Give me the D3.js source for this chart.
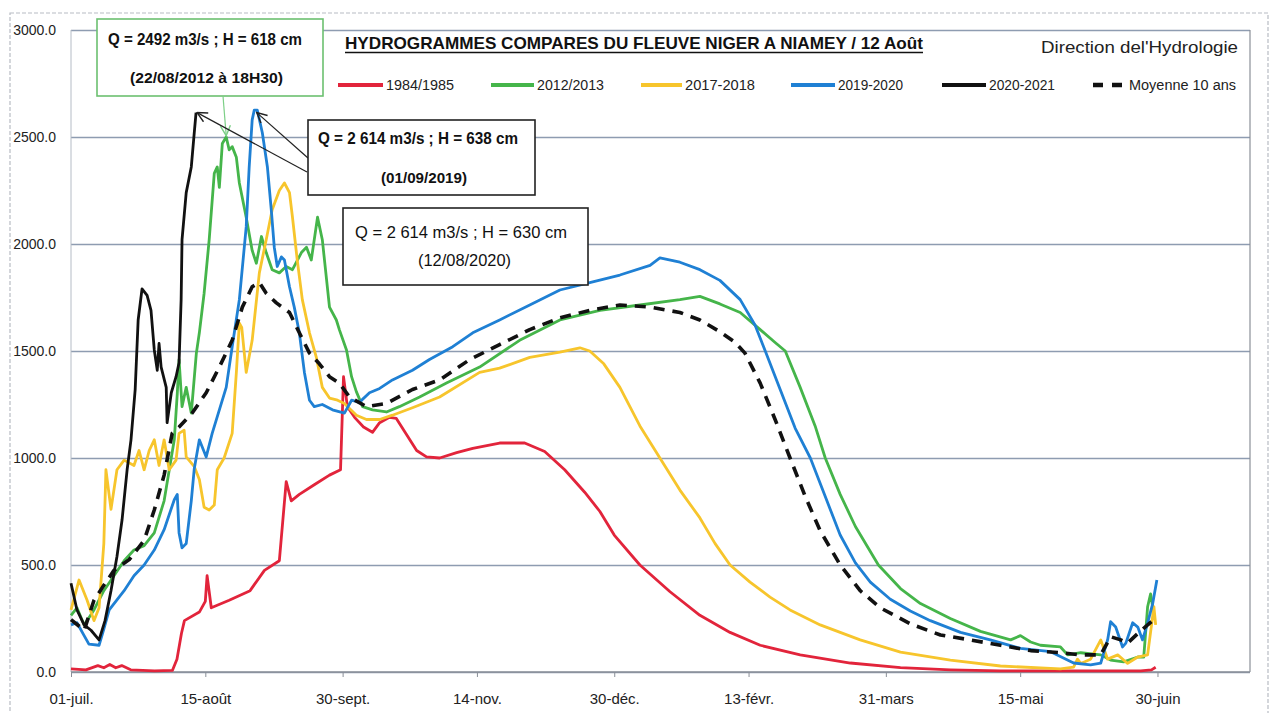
<!DOCTYPE html>
<html>
<head>
<meta charset="utf-8">
<script src="https://cdn.jsdelivr.net/npm/d3@7"></script>
<style>
body { margin: 0; background: #fff; }
text { font-family: "Liberation Sans", Arial, sans-serif; }
</style>
</head>
<body>
<script>
var w = 1274;
var h = 713;

// days counted from 01-juil., discharge Q in m3/s
var q1984 = [[0,15],[5,10],[9,30],[11,20],[13,35],[15,20],[17,30],[20,10],[28,5],[34,8],[35.5,60],[37,180],[38,240],[43,280],[45,330],[45.6,450],[47,300],[53,335],[60,380],[64.8,475],[69.8,520],[72.1,890],[73.8,800],[76.5,830],[81.5,875],[86.6,920],[90.3,945],[91.3,1380],[92.6,1240],[95,1190],[98,1145],[101,1120],[103.4,1165],[106.7,1190],[109,1185],[112.4,1110],[115.8,1035],[119.1,1005],[123.5,1000],[129.2,1025],[134.6,1045],[143.6,1070],[152,1070],[158.7,1030],[165.4,945],[172.1,840],[177.2,750],[182,640],[190.6,500],[200.7,375],[210.7,265],[220.8,185],[230.9,125],[244.3,80],[261.1,42],[277.9,20],[294.6,10],[311.4,5],[345,5],[358.4,5],[362,10],[363.4,22]];

var q2012 = [[0,265],[2,300],[4.4,220],[7.7,290],[11,380],[14.4,450],[17.8,520],[21.1,570],[24.5,590],[27.9,650],[31.2,800],[34.6,1085],[35.6,1300],[36.2,1460],[37.2,1240],[38.6,1330],[40.3,1210],[42,1490],[43,1585],[44.6,1770],[46.3,2020],[48,2330],[49,2360],[49.7,2265],[50.7,2470],[52,2500],[53,2440],[54,2455],[55.4,2405],[56.4,2285],[58.7,2125],[60.7,1970],[62.1,1910],[63.8,2035],[65.4,1960],[67.4,1880],[69.8,1865],[72.1,1895],[74.2,1880],[77.2,1960],[78.9,1985],[80.5,1925],[82.6,2125],[84.2,2020],[86.6,1705],[88.9,1645],[89.9,1600],[92.3,1505],[94,1380],[95.6,1310],[97.7,1240],[101,1225],[105.7,1215],[110,1240],[116.8,1285],[125.8,1350],[136.9,1425],[150.3,1550],[163.8,1645],[177.2,1690],[190.6,1715],[204,1740],[210.7,1755],[217.4,1720],[224.2,1680],[230.9,1600],[235.9,1540],[239.3,1500],[244.3,1330],[249.3,1150],[252.7,1000],[257.7,830],[262.8,680],[270.5,500],[277.9,390],[284.6,320],[294.6,250],[304.7,190],[314.8,150],[318.1,170],[321.5,140],[324.8,125],[331.5,117],[333.9,80],[338.3,90],[345,80],[348.3,56],[352.7,47],[357.4,70],[359.4,70],[360.7,305],[361.7,365],[363,250]];

var q2017 = [[0,290],[2.7,430],[5.4,335],[7.7,240],[9.4,300],[11,600],[11.7,945],[13.4,760],[15.4,945],[17.8,990],[21.1,965],[22.8,1035],[24.5,945],[26.2,1035],[27.9,1085],[29.5,965],[31.2,1085],[32.9,945],[35.2,990],[36.2,1115],[37.9,1130],[38.6,1005],[41.3,960],[43,900],[44.6,770],[46.3,757],[48,780],[49,945],[51.3,1000],[54,1115],[55.4,1400],[56.4,1630],[57.2,1610],[58.7,1400],[60.7,1550],[63.1,1865],[65.4,2020],[67.4,2160],[69.8,2250],[71.5,2285],[73.2,2240],[74.2,2125],[75.8,1925],[77.5,1740],[79.9,1585],[82.2,1470],[84.2,1330],[86.6,1280],[89.3,1270],[91.6,1255],[95.6,1200],[99,1180],[103.4,1180],[107.7,1200],[114.4,1235],[123.5,1285],[136.9,1400],[143.6,1420],[153.7,1470],[163.8,1495],[170.5,1515],[173.8,1500],[178.5,1440],[183.9,1330],[190.6,1150],[197.3,1000],[204,850],[210.7,720],[215.8,600],[220.8,500],[227.5,420],[234.2,350],[240.9,290],[251,220],[264.4,150],[277.9,93],[294.6,56],[311.4,28],[331.5,15],[335.9,23],[337.2,60],[338.3,40],[341.6,60],[345,150],[347.3,60],[350.7,80],[354,40],[357.4,70],[360.7,80],[362.8,305],[363.4,220]];

var q2019 = [[0,220],[2,230],[4.4,170],[6,130],[9.4,125],[11,200],[12.8,290],[17.8,380],[21.1,450],[24.5,500],[27.9,570],[31.2,665],[34.6,805],[35.6,830],[36.2,650],[37.2,580],[38.6,600],[40.3,800],[41.3,950],[43,1085],[45.3,1005],[47.3,1115],[52,1330],[54,1520],[56.4,1740],[58.7,2080],[59.7,2360],[60.7,2580],[61.4,2626],[62.4,2626],[64.1,2520],[65.8,2360],[67.1,2160],[68.1,1985],[69.1,1895],[70.5,1940],[71.5,1925],[73.2,1800],[74.8,1705],[76.5,1585],[78.2,1400],[79.9,1270],[81.5,1240],[84.2,1250],[87.6,1225],[91.6,1210],[94,1270],[96.6,1260],[100,1305],[103.4,1325],[107.7,1365],[114.4,1410],[120.1,1460],[127.9,1520],[134.6,1585],[143.6,1645],[153.7,1715],[163.8,1785],[173.8,1820],[183.9,1855],[194,1900],[197.3,1935],[204,1915],[210.7,1880],[217.4,1830],[224.2,1740],[229.2,1620],[232.6,1500],[237.6,1320],[242.6,1140],[247.7,1000],[252.7,820],[257.7,640],[262.8,510],[267.8,420],[274.5,340],[281.2,285],[287.9,240],[298,185],[308,150],[318.1,110],[328.2,95],[335.9,42],[341.6,33],[345,42],[347.3,150],[348.3,235],[350,210],[352.3,117],[353.4,135],[355.7,230],[357.4,210],[359,150],[360.7,230],[362.4,320],[363.8,430]];

var q2020 = [[0,415],[2,290],[4.4,220],[6.7,195],[9.4,150],[11.4,240],[13.4,380],[15.4,540],[17.1,710],[18.8,945],[20.1,1085],[21.5,1320],[22.5,1645],[23.8,1790],[25.5,1760],[26.8,1690],[27.9,1505],[28.9,1410],[29.5,1535],[30.2,1425],[31.9,1330],[32.2,1165],[33.6,1305],[35.2,1380],[36.2,1445],[36.9,1740],[37.2,2020],[38.6,2240],[40.3,2360],[41.3,2520],[41.9,2614]];

var qMoy = [[0,245],[4.4,195],[7.7,335],[11,405],[14.4,475],[19.5,525],[24.5,615],[27.9,757],[31.2,920],[33.9,1115],[36.2,1145],[40.6,1210],[45.3,1305],[49.7,1425],[54,1550],[57.4,1705],[60.7,1800],[63.1,1820],[65.4,1770],[68.8,1725],[73.2,1680],[76.5,1585],[79.9,1490],[83.2,1440],[86.6,1380],[89.9,1350],[93.3,1285],[99,1240],[105.7,1255],[114.4,1320],[123.5,1365],[133.6,1460],[143.6,1530],[153.7,1600],[163.8,1655],[173.8,1690],[183.9,1715],[194,1705],[204,1680],[210.7,1645],[217.4,1590],[222.5,1540],[225.8,1490],[230.9,1350],[235.9,1180],[240.9,1000],[246,820],[251,660],[257.7,500],[264.4,380],[271.1,300],[281.2,225],[291.3,173],[301.3,150],[311.4,125],[321.5,100],[331.5,90],[338.3,80],[345,80],[348.3,165],[351.7,150],[354,135],[357.4,180],[360.7,220],[362.8,245]];

var seriesNames = ["1984/1985", "2012/2013", "2017-2018", "2019-2020", "2020-2021", "Moyenne 10 ans"];
var seriesData = [q1984, q2012, q2017, q2019, q2020, qMoy];
var seriesColors = ["#e2243b", "#45b54a", "#f7c52c", "#1f80d4", "#111111", "#111111"];

var tickDays = [0, 45, 91, 136, 182, 227, 273, 318, 364];
var tickLabels = ["01-juil.", "15-août", "30-sept.", "14-nov.", "30-déc.", "13-févr.", "31-mars", "15-mai", "30-juin"];
var yTicks = [0, 500, 1000, 1500, 2000, 2500, 3000];

// annotated peaks
var peakGreen = [52, 2492];
var peakBlack = [41.9, 2614];
var peakBlue = [61.9, 2614];

var svg = d3.select("body").append("svg")
  .attr("width", w)
  .attr("height", h);

var pLeft = 71, pRight = 1250, pTop = 30, pBottom = 672;

var x = d3.scaleLinear().domain([0, 395]).range([pLeft, pRight]);
var y = d3.scaleLinear().domain([0, 3000]).range([pBottom, pTop]);

// outer chart frame
svg.append("rect")
  .attr("x", 10).attr("y", 13)
  .attr("width", 1258).attr("height", 720)
  .attr("fill", "none")
  .attr("stroke", "#b8bcc4")
  .attr("stroke-width", 1.2)
  .attr("stroke-dasharray", "4,2");

// y gridlines + labels
var yAxis = svg.append("g")
  .attr("transform", "translate(" + pLeft + ",0)")
  .call(d3.axisLeft(y).tickValues(yTicks).tickFormat(d3.format(".1f"))
    .tickSize(-(pRight - pLeft)).tickPadding(15));
yAxis.select(".domain").remove();
yAxis.selectAll("line")
  .attr("stroke", "#8e9cb1")
  .attr("stroke-width", 1.4);
yAxis.selectAll("text")
  .attr("font-size", "14px")
  .attr("fill", "#222");

// left and right plot edges
svg.append("line")
  .attr("x1", pLeft).attr("x2", pLeft).attr("y1", pTop).attr("y2", pBottom)
  .attr("stroke", "#b5bcc6").attr("stroke-width", 1);
svg.append("line")
  .attr("x1", pRight).attr("x2", pRight).attr("y1", pTop).attr("y2", pBottom)
  .attr("stroke", "#8a8f98").attr("stroke-width", 1.2);

// x axis
var xAxis = svg.append("g")
  .attr("transform", "translate(0," + pBottom + ")")
  .call(d3.axisBottom(x).tickValues(tickDays)
    .tickFormat(function(d, i) { return tickLabels[i]; })
    .tickSize(5).tickPadding(16));
xAxis.select(".domain")
  .attr("stroke", "#8a8f98")
  .attr("stroke-width", 1.4)
  .attr("d", "M" + pLeft + ",0H" + pRight);
xAxis.selectAll("line").attr("stroke", "#8a8f98");
xAxis.selectAll("text")
  .attr("font-size", "15px")
  .attr("fill", "#222");

// series
var line = d3.line()
  .x(function(d) { return x(d[0]); })
  .y(function(d) { return y(d[1]); });

svg.selectAll(".serie")
  .data(seriesData)
  .enter()
  .append("path")
  .attr("class", "serie")
  .attr("d", line)
  .attr("fill", "none")
  .attr("stroke", function(d, i) { return seriesColors[i]; })
  .attr("stroke-width", function(d, i) { return i == 5 ? 3.6 : 2.8; })
  .attr("stroke-dasharray", function(d, i) { return i == 5 ? "11,8" : null; })
  .attr("stroke-linejoin", "round");

// title
svg.append("text")
  .attr("x", 345).attr("y", 49)
  .attr("textLength", 578)
  .attr("lengthAdjust", "spacingAndGlyphs")
  .attr("font-size", "17px")
  .attr("font-weight", "bold")
  .attr("fill", "#111")
  .text("HYDROGRAMMES COMPARES DU FLEUVE NIGER A NIAMEY / 12 Août");
svg.append("line")
  .attr("x1", 345).attr("x2", 923).attr("y1", 52.5).attr("y2", 52.5)
  .attr("stroke", "#111").attr("stroke-width", 1.3);

svg.append("text")
  .attr("x", 1041).attr("y", 53)
  .attr("textLength", 197)
  .attr("lengthAdjust", "spacingAndGlyphs")
  .attr("font-size", "16px")
  .attr("fill", "#222")
  .text("Direction del'Hydrologie");

// legend
var legX = [338, 491, 641, 791, 942, 1093];
var legW = [45, 43, 41, 44, 44, 30];
var legTextW = [68, 67, 70, 65, 66, 107];
var leg = svg.selectAll(".leg")
  .data(seriesNames)
  .enter()
  .append("g")
  .attr("class", "leg");
leg.append("line")
  .attr("x1", function(d, i) { return legX[i]; })
  .attr("x2", function(d, i) { return legX[i] + legW[i]; })
  .attr("y1", 85).attr("y2", 85)
  .attr("stroke", function(d, i) { return seriesColors[i]; })
  .attr("stroke-width", function(d, i) { return i == 5 ? 4.5 : 4; })
  .attr("stroke-dasharray", function(d, i) { return i == 5 ? "10,9" : null; });
leg.append("text")
  .attr("x", function(d, i) { return legX[i] + legW[i] + (i == 5 ? 6 : 3); })
  .attr("y", 90)
  .attr("textLength", function(d, i) { return legTextW[i]; })
  .attr("lengthAdjust", "spacingAndGlyphs")
  .attr("font-size", "14px")
  .attr("fill", "#222")
  .text(function(d) { return d; });

// annotation boxes
function box(bx, by, bw, bh, col) {
  svg.append("rect")
    .attr("x", bx).attr("y", by)
    .attr("width", bw).attr("height", bh)
    .attr("fill", "#fff")
    .attr("stroke", col)
    .attr("stroke-width", 1.6);
}
function label(tx, ty, tl, txt, bold, size) {
  svg.append("text")
    .attr("x", tx).attr("y", ty)
    .attr("textLength", tl)
    .attr("lengthAdjust", "spacingAndGlyphs")
    .attr("font-size", size + "px")
    .attr("font-weight", bold ? "bold" : "normal")
    .attr("fill", "#111")
    .text(txt);
}

svg.append("defs").append("marker")
  .attr("id", "arr")
  .attr("viewBox", "0 0 12 12")
  .attr("refX", 11).attr("refY", 6)
  .attr("markerWidth", 12).attr("markerHeight", 12)
  .attr("markerUnits", "userSpaceOnUse")
  .attr("orient", "auto")
  .append("path")
  .attr("d", "M1,1L11,6L1,11")
  .attr("fill", "none")
  .attr("stroke", "context-stroke")
  .attr("stroke-width", 1.4);

function arrow(x1, y1, x2, y2, col, sw) {
  svg.append("line")
    .attr("x1", x1).attr("y1", y1)
    .attr("x2", x2).attr("y2", y2)
    .attr("stroke", col)
    .attr("stroke-width", sw)
    .attr("marker-end", "url(#arr)");
}

// 2012 peak
box(97, 19, 226, 77, "#6cc070");
label(108, 45, 194, "Q = 2492 m3/s ;  H = 618 cm", true, 16);
label(130, 83, 153, "(22/08/2012 à 18H30)", true, 15);
arrow(223, 96, x(peakGreen[0]), y(peakGreen[1]) - 3, "#7ccf86", 1.2);

// 2019 and 2020 peaks
arrow(307, 172, x(peakBlack[0]) + 1, y(peakBlack[1]), "#222", 1.2);
arrow(308, 158, x(peakBlue[0]) + 1, y(peakBlue[1]), "#222", 1.2);
box(308, 120, 227, 75, "#222");
label(318, 144, 200, "Q = 2 614 m3/s ;  H = 638 cm", true, 16);
label(381, 183, 86, "(01/09/2019)", true, 15);

box(343, 208, 245, 77, "#222");
label(355, 238, 212, "Q = 2 614  m3/s ;  H = 630  cm", false, 17);
label(418, 266, 93, "(12/08/2020)", false, 16);
</script>
</body>
</html>
